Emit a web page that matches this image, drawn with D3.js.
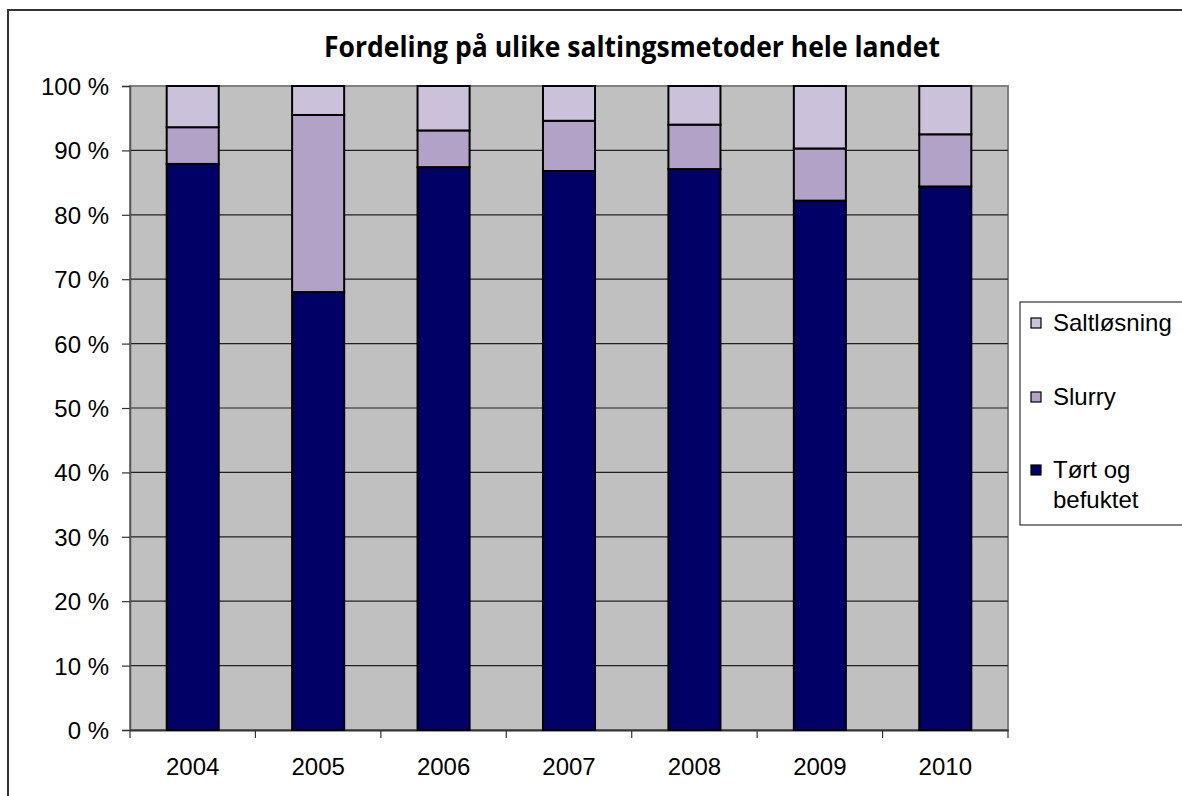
<!DOCTYPE html>
<html>
<head>
<meta charset="utf-8">
<script src="https://cdn.jsdelivr.net/npm/d3@7"></script>
<style>
  body { margin: 0; background: #ffffff; }
  svg { display: block; }
  .label { font-family: "Liberation Sans", Arial, sans-serif; font-size: 24px; fill: #000; }
</style>
</head>
<body>
<svg id="chart"></svg>
<script>
const years = ["2004", "2005", "2006", "2007", "2008", "2009", "2010"];
const seriesNames = ["Tørt og befuktet", "Slurry", "Saltløsning"];
const tortOgBefuktet = [87.9, 68.0, 87.4, 86.8, 87.1, 82.2, 84.4];
const slurry = [5.7, 27.5, 5.7, 7.8, 6.9, 8.1, 8.1];
const saltlosning = [6.4, 4.5, 6.9, 5.4, 6.0, 9.7, 7.5];
const yTicks = [0, 10, 20, 30, 40, 50, 60, 70, 80, 90, 100];
const title = "Fordeling på ulike saltingsmetoder hele landet";

const width = 1182;
const height = 796;

const marginLeft = 130;
const marginRight = 174;
const marginTop = 86;
const marginBottom = 66;

const seriesColor = d3.scaleOrdinal()
    .domain(seriesNames)
    .range(["#000066", "#b3a2c7", "#ccc1da"]);

const svg = d3.select("#chart")
    .attr("width", width)
    .attr("height", height);

// table for the stack generator
const records = years.map((y, i) => ({
    year: y,
    "Tørt og befuktet": tortOgBefuktet[i],
    "Slurry": slurry[i],
    "Saltløsning": saltlosning[i]
}));

const xscale = d3.scaleBand()
    .domain(years)
    .range([marginLeft, width - marginRight])
    .paddingInner(0.585)
    .paddingOuter(0.2925);

const catscale = d3.scaleBand()
    .domain(years)
    .range([marginLeft, width - marginRight]);

const yscale = d3.scaleLinear()
    .domain([0, 100])
    .range([height - marginBottom, marginTop]);


function drawFrame() {
    svg.append("rect")
        .attr("x", 8)
        .attr("y", 10)
        .attr("width", 1300)
        .attr("height", 900)
        .style("fill", "none")
        .style("stroke", "#333333")
        .style("stroke-width", 2);

    svg.append("text")
        .text(title)
        .attr("x", 632)
        .attr("y", 57)
        .attr("text-anchor", "middle")
        .attr("textLength", 616)
        .attr("lengthAdjust", "spacingAndGlyphs")
        .style("font-family", "'Liberation Sans Narrow', 'Open Sans', sans-serif")
        .style("font-weight", "bold")
        .style("font-size", "29px")
        .style("fill", "#000");
}


function drawPlot() {
    const [x0, x1] = xscale.range();

    svg.append("rect")
        .attr("x", x0)
        .attr("y", yscale(100))
        .attr("width", x1 - x0)
        .attr("height", yscale(0) - yscale(100))
        .style("fill", "#c0c0c0")
        .style("stroke", "#808080")
        .style("stroke-width", 2);

    svg.append("g").selectAll("line")
        .data(yTicks.filter(d => d > 0 && d < 100))
        .join("line")
        .attr("x1", x0)
        .attr("x2", x1)
        .attr("y1", d => yscale(d))
        .attr("y2", d => yscale(d))
        .style("stroke", "#222222")
        .style("stroke-width", 1.2);

    const yAxis = d3.axisLeft(yscale)
        .tickValues(yTicks)
        .tickFormat(d => `${d} %`)
        .tickSize(8)
        .tickPadding(13);

    const ya = svg.append("g")
        .attr("transform", `translate(${[x0, 0]})`)
        .call(yAxis);
    ya.select(".domain").style("stroke", "#555555").style("stroke-width", 1.5);
    ya.selectAll(".tick line").style("stroke", "#333333").style("stroke-width", 1.2);
    ya.selectAll("text").attr("class", "label").attr("dy", "0.35em");

    const xAxis = d3.axisBottom(catscale)
        .tickSize(0)
        .tickPadding(28);

    const xa = svg.append("g")
        .attr("transform", `translate(${[0, yscale(0)]})`)
        .call(xAxis);
    xa.select(".domain").style("stroke", "#333333").style("stroke-width", 2);
    xa.selectAll("text").attr("class", "label");

    // category boundary ticks
    const bounds = years.map(y => catscale(y)).concat([x1]);
    svg.append("g").selectAll("line")
        .data(bounds)
        .join("line")
        .attr("x1", d => d)
        .attr("x2", d => d)
        .attr("y1", yscale(0))
        .attr("y2", yscale(0) + 8)
        .style("stroke", "#333333")
        .style("stroke-width", 1.2);
}


function drawBars() {
    const stacked = d3.stack().keys(seriesNames)(records);

    svg.append("g").selectAll("g")
        .data(stacked)
        .join("g")
        .style("fill", d => seriesColor(d.key))
        .selectAll("rect")
        .data(d => d)
        .join("rect")
        .attr("x", d => xscale(d.data.year))
        .attr("y", d => yscale(d[1]))
        .attr("width", xscale.bandwidth())
        .attr("height", d => yscale(d[0]) - yscale(d[1]))
        .style("stroke", "#000")
        .style("stroke-width", 2);
}


function drawLegend() {
    const lg = svg.append("g");

    lg.append("rect")
        .attr("x", 1020)
        .attr("y", 302)
        .attr("width", 200)
        .attr("height", 223)
        .style("fill", "#fff")
        .style("stroke", "#333333")
        .style("stroke-width", 1.2);

    // legend lists series top to bottom in reverse order
    const items = [
        { name: "Saltløsning", lines: ["Saltløsning"], y: 323 },
        { name: "Slurry", lines: ["Slurry"], y: 397 },
        { name: "Tørt og befuktet", lines: ["Tørt og", "befuktet"], y: 470 }
    ];

    const item = lg.selectAll("g")
        .data(items)
        .join("g")
        .attr("transform", d => `translate(${[1031, d.y]})`);

    item.append("rect")
        .attr("x", 0)
        .attr("y", -5)
        .attr("width", 10)
        .attr("height", 10)
        .style("fill", d => seriesColor(d.name))
        .style("stroke", "#000")
        .style("stroke-width", 1.2);

    item.append("text")
        .attr("class", "label")
        .attr("x", 22)
        .selectAll("tspan")
        .data(d => d.lines)
        .join("tspan")
        .attr("x", 22)
        .attr("y", (d, i) => i * 30)
        .attr("dy", "0.35em")
        .text(d => d);
}


drawFrame();
drawPlot();
drawBars();
drawLegend();
</script>
</body>
</html>
